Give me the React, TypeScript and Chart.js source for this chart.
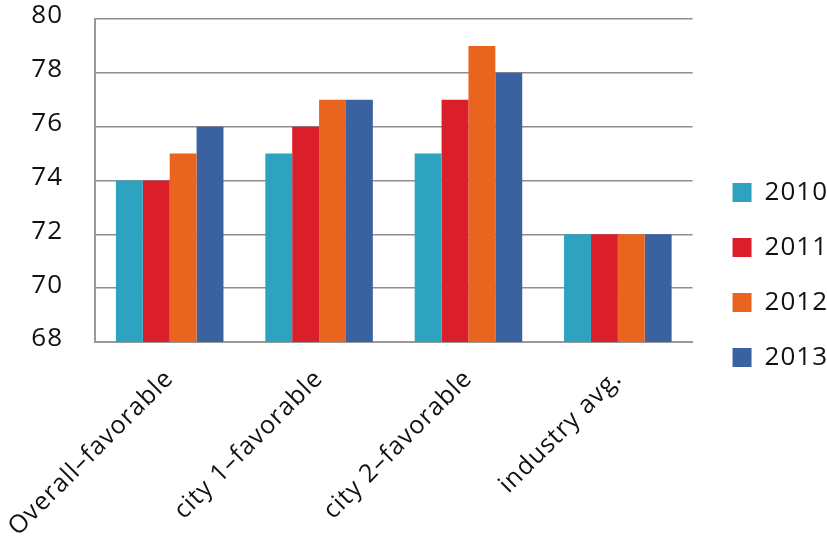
import React, { useEffect, useRef } from "react";
import { Chart, registerables } from "chart.js";

Chart.register(...registerables);

const categories = ["Overall–favorable", "city 1–favorable", "city 2–favorable", "industry avg."];
const seriesNames = ["2010", "2011", "2012", "2013"];
const values2010 = [74, 75, 75, 72];
const values2011 = [74, 76, 77, 72];
const values2012 = [75, 77, 79, 72];
const values2013 = [76, 77, 78, 72];
const colors = ["#2ea3bf", "#da1f2b", "#e9651f", "#3a62a0"];

const FONT = "'Open Sans', sans-serif";
const SPACING = "1px";

const spacingPlugin = {
  id: "spacing",
  beforeInit(chart: any) {
    chart.ctx.letterSpacing = SPACING;
  },
  beforeLayout(chart: any) {
    chart.ctx.letterSpacing = SPACING;
  },
  afterLayout(chart: any) {
    if (chart.legend) {
      chart.legend.left += 11;
      chart.legend.right += 11;
      chart.legend.top -= 4;
      chart.legend.bottom -= 4;
    }
  },
  beforeDraw(chart: any) {
    chart.ctx.letterSpacing = SPACING;
  },
};

export default function App() {
  const ref = useRef<HTMLCanvasElement | null>(null);
  useEffect(() => {
    if (!ref.current) return;
    const series = [values2010, values2011, values2012, values2013];
    const chart = new Chart(ref.current, {
      type: "bar",
      plugins: [spacingPlugin],
      data: {
        labels: categories,
        datasets: series.map((d, i) => ({
          label: seriesNames[i],
          data: d,
          backgroundColor: colors[i],
          borderWidth: 0,
          barPercentage: 1,
          categoryPercentage: 0.72,
        })),
      },
      options: {
        responsive: false,
        animation: false,
        layout: { padding: { top: 19, right: 0, left: 0, bottom: 0 } },
        plugins: {
          tooltip: { enabled: false },
          legend: {
            position: "right",
            labels: {
              boxWidth: 19,
              boxHeight: 19,
              padding: 29,
              color: "#111",
              font: { family: FONT, size: 26 },
            },
          },
        },
        scales: {
          x: {
            grid: { display: false, drawTicks: false },
            border: { display: true, color: "#999", width: 2 },
            afterFit(scale: any) {
              scale.height = 197;
              scale.paddingLeft = 0;
              scale.paddingRight = 0;
            },
            ticks: {
              minRotation: 45,
              maxRotation: 45,
              color: "#111",
              padding: 22,
              font: { family: FONT, size: 25 },
            },
          },
          y: {
            min: 68,
            max: 80,
            grid: { color: "#8e8e8e", lineWidth: 1.5, drawTicks: false },
            border: { display: true, color: "#999", width: 2 },
            afterFit(scale: any) {
              scale.width = 95;
              scale.paddingTop = 0;
              scale.paddingBottom = 0;
            },
            ticks: {
              stepSize: 2,
              color: "#111",
              padding: 32,
              labelOffset: -3,
              font: { family: FONT, size: 26 },
            },
          },
        },
      },
    });
    return () => chart.destroy();
  }, []);
  return (
    <div style={{ position: "fixed", left: 0, top: 0, width: 827, height: 539, background: "#fff" }}>
      <canvas ref={ref} width={827} height={539} />
    </div>
  );
}
